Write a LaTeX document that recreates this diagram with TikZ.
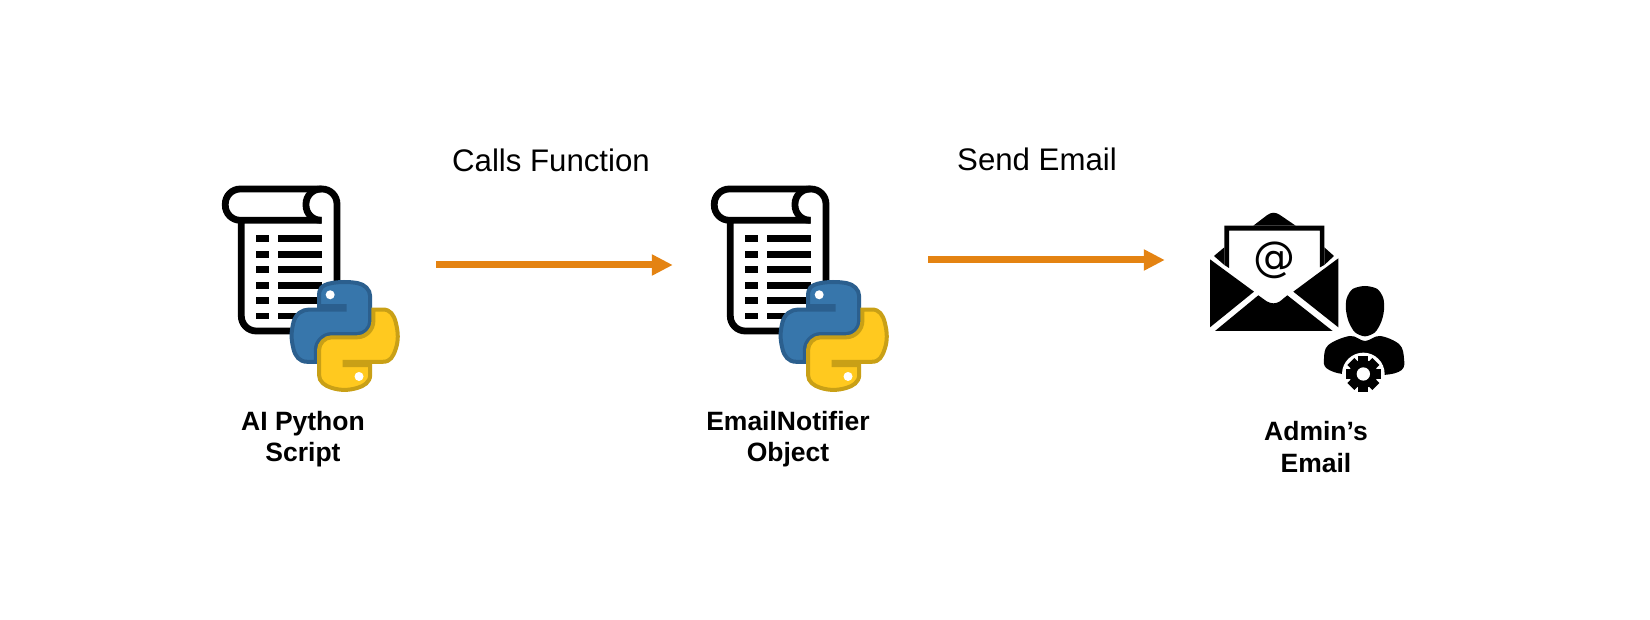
\documentclass[tikz,border=0pt]{standalone}
\usepackage{fontspec}
\setmainfont{Liberation Sans}
\newfontfamily\atfont{DejaVu Sans}
\usetikzlibrary{arrows.meta}
\usetikzlibrary{svg.path}
\definecolor{floworange}{HTML}{E48312}
\definecolor{pyblue}{HTML}{3776AB}
\definecolor{pybluedark}{HTML}{2B5F8E}
\definecolor{pyyellow}{HTML}{FFC91F}
\definecolor{pyyellowdark}{HTML}{C9A016}
\tikzstyle{iconbox} = [minimum width=178pt, minimum height=150pt, inner sep=0pt]
\tikzstyle{mailbox} = [minimum width=128pt, minimum height=80pt, inner sep=0pt]
\tikzstyle{flow} = [draw=floworange, line width=7pt, -{Triangle[length=21pt,width=20pt,fill=floworange]}]
\tikzstyle{calltext} = [font=\fontsize{31.2}{37}\selectfont, anchor=base, inner sep=0pt]
\tikzstyle{capt} = [font=\fontsize{26.5}{31.6}\bfseries\selectfont, align=center, inner sep=0pt]
\tikzstyle{scrollline} = [draw=black, line width=6.8pt, rounded corners=15pt]
\tikzset{
  scripticon/.pic={
    \draw[scrollline] (131.7,60.3) -- (35.3,60.3) -- (35.3,29) -- (147,29) -- (147,171) -- (51.3,171) -- (51.3,60.3);
    \draw[scrollline] (131.7,60.3) -- (116,60.3) -- (116,29) -- (131.7,29);
    \foreach \rowy in {78.7,94.3,109.7,125.3,140.7,156} {
      \fill (66,\rowy-3.3) rectangle (79.3,\rowy+3.3);
      \fill (88.3,\rowy-3.3) rectangle (132,\rowy+3.3);
    }
    \begin{scope}[shift={(101.6,122)},xscale=.955,yscale=-.96]
      \filldraw[fill=pyblue, draw=pybluedark, line width=4pt] (0,0) svg {M 54.918785,0 C 50.335132,0.02221727 45.957846,0.41313697 42.106285,1.0946693 30.760069,3.0991731 28.700036,7.2947714 28.700035,15.032169 v 10.21875 h 26.8125 v 3.40625 h -26.8125 -10.0625 c -7.792459,0 -14.6157588,4.683717 -16.7499998,13.59375 -2.46181998,10.212966 -2.57101508,16.586023 0,27.25 1.9059283,7.937852 6.4575432,13.593748 14.2499998,13.59375 h 9.21875 v -12.25 c 0,-8.849902 7.657144,-16.656248 16.75,-16.65625 h 26.78125 c 7.454951,0 13.406253,-6.138164 13.40625,-13.625 v -25.53125 c 0,-7.2663386 -6.12998,-12.7247771 -13.40625,-13.9374997 C 64.281548,0.32794397 59.502438,-0.02037903 54.918785,0 Z};
      \filldraw[fill=pyyellow, draw=pyyellowdark, line width=4pt] (0,0) svg {M 85.637535,28.657169 v 11.90625 c 0,9.230755 -7.825895,16.999999 -16.75,17 h -26.78125 c -7.335833,0 -13.406249,6.278483 -13.40625,13.625 v 25.531247 c 0,7.266344 6.318588,11.540324 13.40625,13.625004 8.487331,2.49561 16.626237,2.94663 26.78125,0 6.750155,-1.95439 13.406253,-5.88761 13.40625,-13.625004 V 86.500919 h -26.78125 v -3.40625 h 26.78125 13.406254 c 7.792461,0 10.696251,-5.435408 13.406241,-13.59375 2.79933,-8.398886 2.74022,-16.475776 0,-27.25 -1.92578,-7.757441 -5.60387,-13.59375 -13.406241,-13.59375 Z};
      \fill[white] (40.4,-13.3) circle (4.7pt);
      \fill[white] (70.6,-98.4) circle (4.7pt);
    \end{scope}
  }
}
\begin{document}
\begin{tikzpicture}[x=1pt, y=-1pt]
\useasboundingbox (0,0) rectangle (1650,620);
\pic at (190,160) {scripticon};
\pic at (679,160) {scripticon};
\begin{scope}[shift={(1130,190)}, scale=0.3333]
  \fill (240,208) -- (372,305) -- (240,412) -- cycle;
  \fill (625,205) -- (490,305) -- (625,412) -- cycle;
  \fill (255,423) -- (385,316) -- (410,334) .. controls (425,342) and (437,342) .. (450,334) -- (472,316) -- (608,423) -- cycle;
  \fill (370,107) -- (412,75) .. controls (425,66) and (437,66) .. (450,75) -- (497,107) -- cycle;
  \fill (252,198) -- (283,172) -- (283,225) -- cycle;
  \fill (612,198) -- (583,172) -- (583,225) -- cycle;
  \fill (283,107) -- (583,107) -- (583,225) -- (570,232) -- (570,122) -- (297,122) -- (297,234) -- (283,225) -- cycle;
\end{scope}
\node[font=\fontsize{42}{42}\atfont\selectfont, inner sep=0pt] (atsign) at (1274,260) {@};
\begin{scope}[shift={(1310,275)}, scale=0.3333]
  \fill plot[smooth cycle] coordinates {(165,33) (202,42) (220,70) (222,105) (214,140) (195,172) (165,184) (135,172) (116,140) (108,105) (110,70) (128,42)};
  \fill plot[smooth cycle, tension=.6] coordinates {(120,183) (165,198) (210,183) (268,208) (282,250) (275,285) (220,300) (105,298) (50,280) (42,250) (55,210)};
  \fill[white] (160,297) circle (64pt);
  \foreach \toothang in {0,45,...,315} {
    \fill[rotate around={\toothang:(160,297)}] (145,244) rectangle (175,275);
  }
  \fill (160,297) circle (42pt);
  \fill[white] (160,297) circle (20pt);
\end{scope}
\node[iconbox] (scriptA) at (311,265) {};
\node[iconbox] (scriptB) at (800,265) {};
\node[mailbox] (mail) at (1274,260) {};
\draw[flow, shorten <=36pt, shorten >=38pt] (scriptA) -- (scriptB);
\draw[flow, shorten <=39pt, shorten >=45pt] (scriptB.east |- mail.west) -- (mail.west);
\node[calltext] (calls) at (551,172) {Calls Function};
\node[calltext] (send) at (1037,171) {Send Email};
\node[capt] (captA) at (303,439) {AI Python\\Script};
\node[capt] (captB) at (788,439) {EmailNotifier\\Object};
\node[capt] (captC) at (1316,447) {Admin’s\\Email};
\end{tikzpicture}
\end{document}
